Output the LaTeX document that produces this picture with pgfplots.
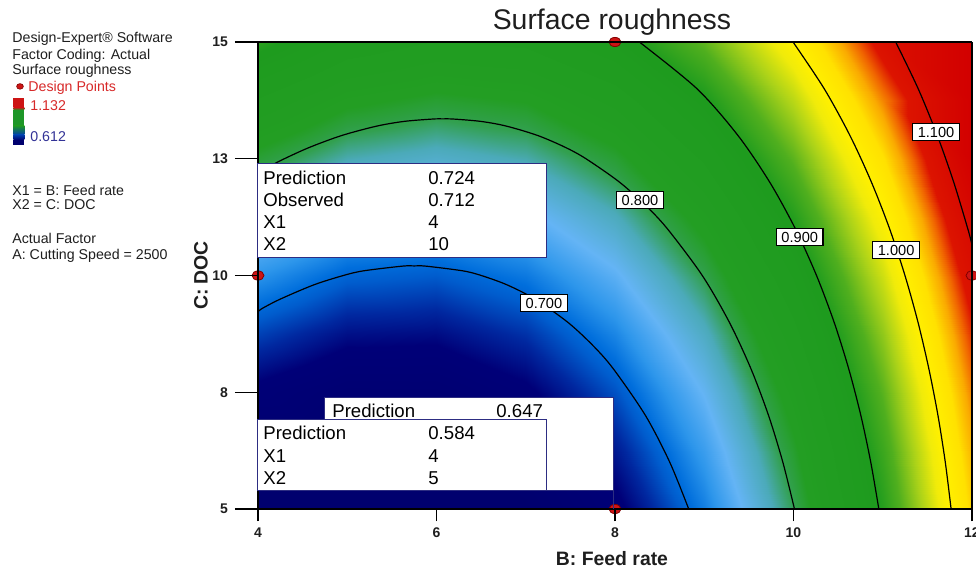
\documentclass[border=0pt]{standalone}
\usepackage{pgfplots}
\pgfplotsset{compat=1.18}
\usepackage{fontspec}
\setmainfont{Liberation Sans}

\definecolor{boxedge}{RGB}{45,45,130}
\definecolor{dpred}{RGB}{205,20,20}
\definecolor{dpedge}{RGB}{130,0,0}
\definecolor{txt}{RGB}{30,30,30}
\definecolor{legred}{RGB}{215,40,40}
\definecolor{legblue}{RGB}{50,50,150}
\definecolor{barred}{RGB}{205,20,20}
\definecolor{bargreen}{RGB}{30,150,40}
\definecolor{barblue}{RGB}{0,60,170}
\definecolor{barnavy}{RGB}{0,0,110}

% colour scale of the response, positions = (value - 0.612) * 1000
\pgfplotsset{colormap={de}{
  rgb255(0pt)=(0,0,110);
  rgb255(43pt)=(0,0,120);
  rgb255(63pt)=(0,40,160);
  rgb255(83pt)=(0,92,205);
  rgb255(93pt)=(0,110,220);
  rgb255(113pt)=(45,150,235);
  rgb255(138pt)=(100,180,245);
  rgb255(168pt)=(75,170,185);
  rgb255(188pt)=(50,160,80);
  rgb255(208pt)=(35,158,35);
  rgb255(288pt)=(30,155,30);
  rgb255(318pt)=(80,175,30);
  rgb255(348pt)=(170,210,25);
  rgb255(373pt)=(240,235,10);
  rgb255(388pt)=(255,240,0);
  rgb255(413pt)=(255,225,0);
  rgb255(433pt)=(250,170,0);
  rgb255(448pt)=(240,100,0);
  rgb255(463pt)=(220,20,0);
  rgb255(520pt)=(210,0,0)}}

\pgfplotsset{frame/.style={
  at={(0,0)}, anchor=south west,
  scale only axis, width=357pt, height=233.5pt,
  xmin=4, xmax=12, ymin=5, ymax=15,
  tick align=outside,
  tick style={black, line width=0.6pt},
  axis line style={black, line width=0.6pt},
  ticklabel style={font=\bfseries\fontsize{7}{8}\selectfont, text=txt},
  /pgf/number format/assume math mode=true}}

\begin{document}
\begin{tikzpicture}[x=1pt,y=1pt]
\begin{axis}[
  frame,
  view={0}{90},
  xtick={4,6,8,10,12}, ytick=\empty,
  tick pos=left,
  major tick length=6pt,
  colormap name=de,
  point meta min=0.612, point meta max=1.132,
  axis on top,
  clip mode=individual,
]
% predicted surface roughness, B: feed rate (x) vs C: DOC (y)
\addplot3[surf, shader=interp, point meta=z, mesh/rows=9, mesh/cols=9] table {
x y z
4 5 0.5840
5 5 0.5696
6 5 0.5753
7 5 0.6011
8 5 0.6470
9 5 0.7130
10 5 0.7990
11 5 0.9051
12 5 1.0313
4 6.25 0.6148
5 6.25 0.5978
6 6.25 0.6010
7 6.25 0.6242
8 6.25 0.6675
9 6.25 0.7309
10 6.25 0.8143
11 6.25 0.9178
12 6.25 1.0415
4 7.5 0.6484
5 7.5 0.6289
6 7.5 0.6294
7 7.5 0.6501
8 7.5 0.6908
9 7.5 0.7516
10 7.5 0.8325
11 7.5 0.9334
12 7.5 1.0545
4 8.75 0.6848
5 8.75 0.6627
6 8.75 0.6607
7 8.75 0.6787
8 8.75 0.7169
9 8.75 0.7751
10 8.75 0.8534
11 8.75 0.9518
12 8.75 1.0703
4 10 0.7240
5 10 0.6993
6 10 0.6947
7 10 0.7102
8 10 0.7458
9 10 0.8015
10 10 0.8772
11 10 0.9730
12 10 1.0889
4 11.25 0.7660
5 11.25 0.7388
6 11.25 0.7316
7 11.25 0.7445
8 11.25 0.7775
9 11.25 0.8306
10 11.25 0.9038
11 11.25 0.9970
12 11.25 1.1103
4 12.5 0.8109
5 12.5 0.7811
6 12.5 0.7713
7 12.5 0.7817
8 12.5 0.8121
9 12.5 0.8626
10 12.5 0.9332
11 12.5 1.0238
12 12.5 1.1346
4 13.75 0.8585
5 13.75 0.8261
6 13.75 0.8138
7 13.75 0.8216
8 13.75 0.8494
9 13.75 0.8974
10 13.75 0.9654
11 13.75 1.0534
12 13.75 1.1616
4 15 0.9090
5 15 0.8740
6 15 0.8591
7 15 0.8643
8 15 0.8896
9 15 0.9350
10 15 1.0004
11 15 1.0859
12 15 1.1915
};

% contour lines
\pgfplotsset{cline/.style={black, line width=0.6pt, smooth, tension=0.5, no marks}}
\addplot3[cline] coordinates {
(4,9.225,0.7) (4.052,9.3,0.7) (4.256,9.5,0.7) (4.626,9.8,0.7) (4.956,10.0,0.7)
(5.183,10.1,0.7) (5.615,10.2,0.7) (5.75,10.205,0.7) (5.883,10.2,0.7)
(6.294,10.1,0.7) (6.502,10.0,0.7) (6.790,9.8,0.7) (7.098,9.5,0.7)
(7.470,9.0,0.7) (7.753,8.5,0.7) (7.982,8.0,0.7) (8.342,7.0,0.7)
(8.614,6.0,0.7) (8.826,5.0,0.7)};
\addplot3[cline] coordinates {
(4,12.204,0.8) (4.091,12.3,0.8) (4.295,12.5,0.8) (4.585,12.75,0.8)
(4.942,13.0,0.8) (5.333,13.2,0.8) (5.638,13.3,0.8) (5.955,13.35,0.8)
(6.07,13.354,0.8) (6.190,13.35,0.8) (6.496,13.3,0.8) (6.781,13.2,0.8)
(7.131,13.0,0.8) (7.437,12.75,0.8) (7.675,12.5,0.8) (8.050,12.0,0.8)
(8.343,11.5,0.8) (8.587,11.0,0.8) (8.978,10.0,0.8) (9.281,9.0,0.8)
(9.524,8.0,0.8) (9.721,7.0,0.8) (9.881,6.0,0.8) (10.011,5.0,0.8)};
\addplot3[cline] coordinates {
(8.273,15,0.9) (8.918,14,0.9) (9.377,13,0.9) (9.733,12,0.9) (10.021,11,0.9)
(10.258,10,0.9) (10.455,9,0.9) (10.619,8,0.9) (10.755,7,0.9) (10.866,6,0.9)
(10.956,5,0.9)};
\addplot3[cline] coordinates {
(9.995,15,1.0) (10.344,14,1.0) (10.632,13,1.0) (10.873,12,1.0) (11.077,11,1.0)
(11.249,10,1.0) (11.395,9,1.0) (11.517,8,1.0) (11.619,7,1.0) (11.701,6,1.0)
(11.766,5,1.0)};
\addplot3[cline] coordinates {
(11.145,15,1.1) (11.397,14,1.1) (11.611,13,1.1) (11.795,12,1.1)
(11.953,11,1.1) (12,10.66,1.1)};

% contour labels
\tikzset{clab/.style={draw=black, fill=white, line width=0.6pt, inner xsep=2.5pt,
  inner ysep=1.8pt, font=\fontsize{7.3}{8}\selectfont}}
\node[clab] at (axis cs:7.204,9.411,0.7) {0.700};
\node[clab] at (axis cs:8.28,11.617,0.8) {0.800};
\node[clab] at (axis cs:10.07,10.824,0.9) {0.900};
\node[clab] at (axis cs:11.15,10.546,1.0) {1.000};
\node[clab] at (axis cs:11.597,13.073,1.1) {1.100};

% design points
\addplot3[only marks, mark=*, mark size=2.3pt,
  mark options={xscale=1.3, fill=dpred, draw=dpedge, line width=0.4pt}]
  coordinates {(8,15,0.8896) (4,10,0.7240) (12,10,1.0889) (8,5,0.6470)};
\end{axis}

% DOC axis with its longer ticks
\begin{axis}[
  frame,
  hide x axis,
  ytick={5,7.5,10,12.5,15}, yticklabels={5,8,10,13,15},
  ytick pos=left,
  major tick length=11.5pt,
]
\end{axis}

% title and axis titles
\node[anchor=base, font=\fontsize{14.2}{17}\selectfont, text=txt] at (177,239.5) {Surface roughness};
\node[anchor=base, font=\bfseries\fontsize{9.7}{11}\selectfont, text=txt] at (177,-28) {B: Feed rate};
\node[anchor=center, rotate=90, font=\bfseries\fontsize{9.7}{11}\selectfont, text=txt] at (-28.5,116.75) {C: DOC};

% information panel
\begin{scope}[every node/.style={anchor=base west, inner sep=0pt,
    font=\fontsize{7.1}{8.5}\selectfont, text=txt}]
\node at (-123,233.15) {Design-Expert® Software};
\node at (-123,225) {Factor Coding: Actual};
\node at (-123,217.35) {Surface roughness};
\node[text=legred] at (-115,208.85) {Design Points};
\node[text=legred] at (-114,199.5) {1.132};
\node[text=legblue] at (-114,183.65) {0.612};
\node at (-123,157) {X1 = B: Feed rate};
\node at (-123,149.85) {X2 = C: DOC};
\node at (-123,132.5) {Actual Factor};
\node at (-123,124.85) {A: Cutting Speed = 2500};
\end{scope}
\fill[dpred, draw=dpedge, line width=0.3pt] (-119,211.3) ellipse (1.7pt and 1.4pt);
\fill[barred] (-122.25,200.85) rectangle (-116.75,205.5);
\shade[top color=barred, bottom color=bargreen] (-122.25,199.5) rectangle (-116.75,200.9);
\fill[bargreen] (-122.25,191.5) rectangle (-116.75,199.55);
\shade[top color=bargreen, bottom color=barblue] (-122.25,187) rectangle (-116.75,191.55);
\shade[top color=barblue, bottom color=barnavy] (-122.25,184.5) rectangle (-116.75,187.05);
\fill[barnavy] (-122.25,182) rectangle (-116.75,184.55);

% point prediction boxes
\begin{scope}[every node/.style={anchor=west, inner sep=0pt,
    font=\fontsize{9.3}{11}\selectfont, text=black}]
\draw[boxedge, fill=white, line width=0.5pt] (0,126) rectangle (144,173);
\node at (2.5,165.5) {Prediction};  \node at (85,165.5) {0.724};
\node at (2.5,154.5) {Observed};    \node at (85,154.5) {0.712};
\node at (2.5,143.5) {X1};          \node at (85,143.5) {4};
\node at (2.5,132.5) {X2};          \node at (85,132.5) {10};
\draw[boxedge, line width=0.5pt] (177.5,9.5) -- (177.5,0);
\draw[boxedge, fill=white, line width=0.5pt] (33.5,9.5) rectangle (177.5,56);
\node at (37,49) {Prediction};      \node at (119,49) {0.647};
\draw[boxedge, fill=white, line width=0.5pt] (0,9.5) rectangle (144,45);
\node at (2.5,38) {Prediction};     \node at (85,38) {0.584};
\node at (2.5,26.5) {X1};           \node at (85,26.5) {4};
\node at (2.5,15.5) {X2};           \node at (85,15.5) {5};
\end{scope}

\pgfresetboundingbox
\path[use as bounding box] (-129,-30) rectangle (359,254.5);
\end{tikzpicture}
\end{document}
